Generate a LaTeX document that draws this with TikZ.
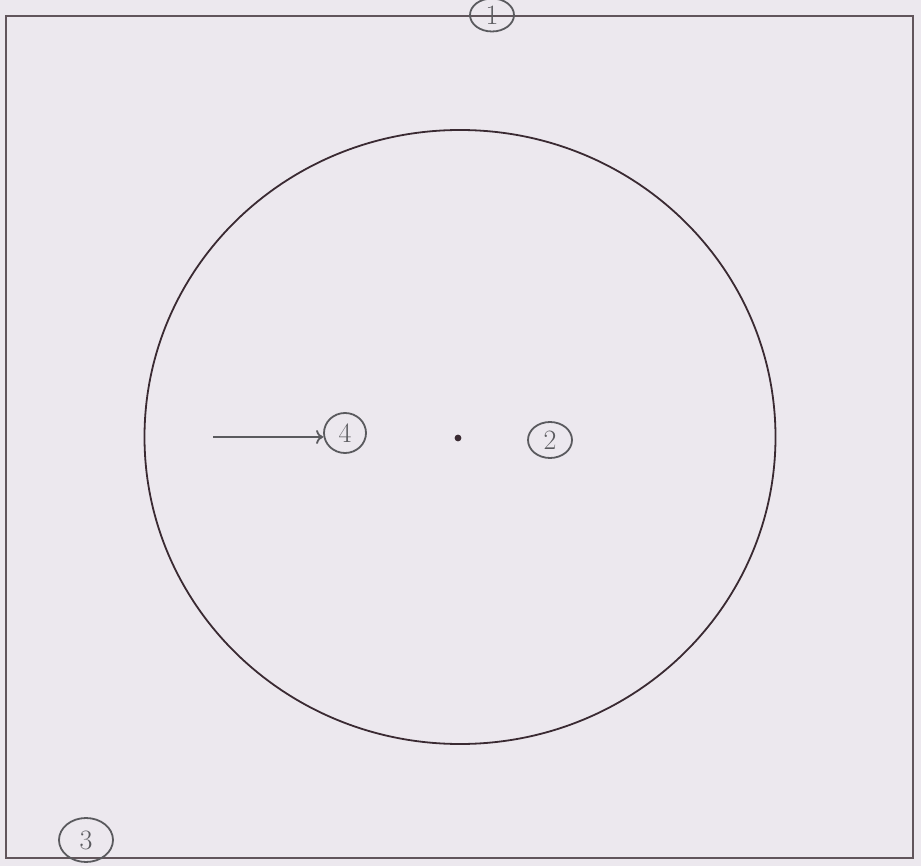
\documentclass[tikz,border=0pt]{standalone}
\usetikzlibrary{shapes.geometric,arrows.meta}
\definecolor{paper}{HTML}{ECE8EE}
\definecolor{pencil}{HTML}{5A5A5E}
\definecolor{ink}{HTML}{3A2A32}
\tikzset{
  lbl/.style={ellipse,draw=pencil,line width=1.8pt,text=pencil,inner sep=0pt,font=\fontsize{28}{28}\selectfont},
  frame/.style={draw=ink!80,line width=1.8pt},
}
\begin{document}
\begin{tikzpicture}[x=1pt,y=-1pt]
\fill[paper] (0,0) rectangle (921,866);
\useasboundingbox (0,0) rectangle (921,866);
\draw[frame] (6,16) rectangle (913,858);
\node[ellipse,draw=ink,line width=1.8pt,minimum width=631pt,minimum height=614pt,inner sep=0pt] (circ) at (460,437) {};
\fill[ink] (458,438) circle (3.4pt);
\node[lbl,minimum width=44pt,minimum height=33pt] (n1) at (492,15) {1};
\node[lbl,minimum width=44pt,minimum height=36pt] (n2) at (550,440) {2};
\node[lbl,minimum width=54pt,minimum height=44pt] (n3) at (86,840) {3};
\node[lbl,minimum width=42pt,minimum height=40pt] (n4) at (345,433) {4};
\coordinate (a) at (213,437);
\draw[pencil,line width=1.8pt,-{To[length=7pt,width=14pt]}] (a) -- (n4.west |- a);
\end{tikzpicture}
\end{document}
